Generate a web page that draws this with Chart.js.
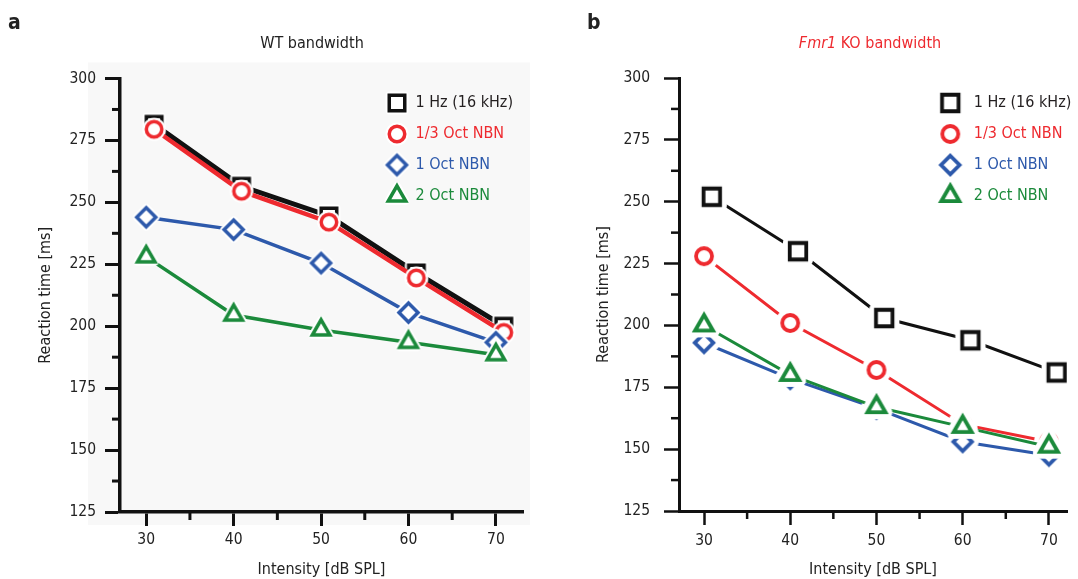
<!DOCTYPE html>
<html>
<head>
<meta charset="utf-8">
<script src="https://cdn.jsdelivr.net/npm/chart.js@4.4.1/dist/chart.umd.min.js"></script>
<style>
  body { margin: 0; background: #fff; }
  #wrap { position: relative; width: 1078px; height: 579px; overflow: hidden;
          font-family: "Liberation Sans Narrow", "DejaVu Sans Condensed", sans-serif; color: #222; }
  canvas { position: absolute; top: 0; }
  #wt { left: 0; }
  #ko { left: 540px; }
  .txt { position: absolute; white-space: nowrap; line-height: 20px; }
  .panel { font-weight: bold; font-size: 21px; }
  .title { font-size: 16px; transform: translateX(-50%); }
  .red { color: #ee2a2f; }
</style>
</head>
<body>
<div id="wrap">
  <canvas id="wt" width="540" height="579"></canvas>
  <canvas id="ko" width="538" height="579"></canvas>
  <div class="txt panel" style="left:8px; top:12px;">a</div>
  <div class="txt title" style="left:312px; top:33px;">WT bandwidth</div>
  <div class="txt panel" style="left:587px; top:12px;">b</div>
  <div class="txt title red" style="left:870px; top:33px;"><i>Fmr1</i> KO bandwidth</div>
</div>
<script>
// ---- data ----
const xTicks = [30, 40, 50, 60, 70];
const xMinor = [35, 45, 55, 65];
const yMinor = [137.5, 162.5, 187.5, 212.5, 237.5, 262.5, 287.5];
const intensity = [30, 40, 50, 60, 70];
const intensityShifted = [30.9, 40.9, 50.9, 60.9, 70.9]; // markers nudged right in the figure

const seriesNames = ['1 Hz (16 kHz)', '1/3 Oct NBN', '1 Oct NBN', '2 Oct NBN'];

const wtHz    = [281.5, 256.5, 244.5, 221.5, 200];
const wtThird = [279.5, 254.5, 242, 219.5, 197.5];
const wtOne   = [244, 239, 225.5, 205.5, 193.5];
const wtTwo   = [228, 204.5, 198.5, 193.5, 188.5];

const koHz    = [252, 230, 203, 194, 181];
const koThird = [228, 201, 182, 160, 153];
const koOne   = [193, 178.5, 166.5, 153, 147.5];
const koTwo   = [200, 180, 167, 159, 151];

const colors = ['#111111', '#ee2a2f', '#2d59ab', '#1b8a3b'];
const textColors = ['#231f20', '#ee2a2f', '#2d59ab', '#1b8a3b'];
const shapes = ['square', 'circle', 'diamond', 'triangle'];

const FONT = '"Liberation Sans Narrow", "DejaVu Sans Condensed", sans-serif';

// draws an open marker with a white halo so lines stop short of it
function marker(shape, color, size, lw, halo) {
  const dim = Math.ceil(size + 4 * (lw + halo) + 4);
  const c = document.createElement('canvas');
  c.width = c.height = dim;
  const g = c.getContext('2d');
  g.translate(dim / 2, dim / 2);
  const r = size / 2;
  const path = () => {
    g.beginPath();
    if (shape === 'square') g.rect(-r, -r, size, size);
    else if (shape === 'circle') g.arc(0, 0, r, 0, Math.PI * 2);
    else if (shape === 'diamond') { g.moveTo(0, -r); g.lineTo(r, 0); g.lineTo(0, r); g.lineTo(-r, 0); g.closePath(); }
    else {
      const h = size * 0.87;
      g.moveTo(0, -2 * h / 3); g.lineTo(r, h / 3); g.lineTo(-r, h / 3); g.closePath();
    }
  };
  path();
  g.fillStyle = '#fff';
  g.fill();
  if (halo > 0) {
    g.lineJoin = 'round';
    g.strokeStyle = '#fff';
    g.lineWidth = lw + 2 * halo;
    g.stroke();
  }
  g.lineJoin = 'miter';
  g.strokeStyle = color;
  g.lineWidth = lw;
  g.stroke();
  return c;
}

function pts(xs, ys) {
  return ys.map((v, i) => ({ x: xs[i], y: v }));
}

const minorTicks = {
  id: 'minorTicks',
  afterDraw(chart, args, opts) {
    const { ctx } = chart;
    const x = chart.scales.x, y = chart.scales.y;
    ctx.save();
    ctx.strokeStyle = '#111';
    ctx.lineWidth = opts.width;
    xMinor.forEach(v => {
      const px = x.getPixelForValue(v);
      ctx.beginPath(); ctx.moveTo(px, x.top); ctx.lineTo(px, x.top + opts.len); ctx.stroke();
    });
    yMinor.forEach(v => {
      const py = y.getPixelForValue(v);
      ctx.beginPath(); ctx.moveTo(y.right, py); ctx.lineTo(y.right - opts.len, py); ctx.stroke();
    });
    ctx.restore();
  }
};

// the legend sits inside the plot, top right
const legendSpot = {
  id: 'legendSpot',
  afterLayout(chart, args, opts) {
    const lg = chart.legend;
    if (!lg) return;
    const w = lg.width, h = lg.height;
    lg.left = opts.x; lg.right = opts.x + w;
    lg.top = opts.y; lg.bottom = opts.y + h + 60;
  }
};

const plotShade = {
  id: 'plotShade',
  beforeDraw(chart, args, opts) {
    if (!opts.color) return;
    const a = chart.chartArea;
    chart.ctx.save();
    chart.ctx.fillStyle = opts.color;
    chart.ctx.fillRect(a.left - 32, a.top - 16, a.right - a.left + 39, a.bottom - a.top + 29);
    chart.ctx.restore();
  }
};

function makeChart(id, cfg) {
  const sets = [cfg.hz, cfg.third, cfg.one, cfg.two].map((vals, i) => ({
    label: seriesNames[i],
    data: pts(cfg.xs[i], vals),
    borderColor: colors[i],
    backgroundColor: colors[i],
    borderWidth: cfg.lineW[i],
    pointStyle: marker(shapes[i], colors[i], cfg.mSize[i], cfg.mLw, cfg.halo),
    pointRadius: 8,
    tension: 0,
    fill: false,
    order: 4 - i
  }));

  return new Chart(document.getElementById(id), {
    type: 'line',
    data: { datasets: sets },
    options: {
      responsive: false,
      animation: false,
      events: [],
      layout: { padding: cfg.pad },
      plugins: {
        title: { display: false },
        tooltip: { enabled: false },
        legend: {
          position: 'chartArea',
          align: 'start',
          labels: {
            usePointStyle: true,
            pointStyleWidth: cfg.legBox,
            padding: 15,
            font: { family: FONT, size: 16 },
            sort: (a, b) => a.datasetIndex - b.datasetIndex,
            generateLabels(chart) {
              return Chart.defaults.plugins.legend.labels.generateLabels(chart)
                .map(it => Object.assign(it, { fontColor: textColors[it.datasetIndex] }));
            }
          }
        },
        legendSpot: cfg.legAt,
        minorTicks: { len: 8, width: cfg.tickW },
        plotShade: { color: cfg.shade }
      },
      scales: {
        x: {
          type: 'linear',
          min: cfg.xMin,
          max: cfg.xMax,
          afterBuildTicks: s => { s.ticks = xTicks.map(v => ({ value: v })); },
          afterFit: s => { s.height = cfg.xH; },
          grid: { drawOnChartArea: false, drawTicks: true, tickLength: 14, tickWidth: cfg.tickW, tickColor: '#111' },
          border: { color: '#111', width: cfg.axisW },
          ticks: { color: '#222', font: { family: FONT, size: 15.5 }, padding: cfg.xTickPad, maxRotation: 0 },
          title: { display: true, text: 'Intensity [dB SPL]', color: '#222',
                   font: { family: FONT, size: 16 }, padding: { top: 2, bottom: 0 } }
        },
        y: {
          min: 125,
          max: 300,
          ticks: { stepSize: 25, color: '#222', font: { family: FONT, size: 15.5 }, padding: cfg.yTickPad },
          afterFit: s => { s.width = cfg.yW; },
          grid: { drawOnChartArea: false, drawTicks: true, tickLength: 15, tickWidth: cfg.tickW, tickColor: '#111' },
          border: { color: '#111', width: cfg.axisW },
          title: { display: true, text: 'Reaction time [ms]', color: '#222',
                   font: { family: FONT, size: 16 }, padding: { top: cfg.yTitlePad, bottom: 0 } }
        }
      }
    },
    plugins: [minorTicks, legendSpot, plotShade]
  });
}

makeChart('wt', {
  hz: wtHz, third: wtThird, one: wtOne, two: wtTwo,
  xs: [intensityShifted, intensityShifted, intensity, intensity],
  lineW: [5, 4.5, 3.5, 3.5],
  mSize: [15.5, 15.5, 19, 17.5],
  mLw: 3.5, halo: 2,
  pad: { left: 0, top: 78.5, right: 17, bottom: 0 },
  xMin: 27, xMax: 73.1,
  xH: 67, yW: 120,
  xTickPad: 5, yTickPad: 9, yTitlePad: 36.4,
  tickW: 3, axisW: 3.5,
  legBox: 21,
  legAt: { x: 371.5, y: 80 },
  shade: '#f8f8f8'
});

makeChart('ko', {
  hz: koHz, third: koThird, one: koOne, two: koTwo,
  xs: [intensityShifted, intensity, intensity, intensity],
  lineW: [3, 3, 3, 3],
  mSize: [16.5, 16, 18.5, 18],
  mLw: 3.8, halo: 5,
  pad: { left: 0, top: 78, right: 5, bottom: 0 },
  xMin: 27.1, xMax: 72.1,
  xH: 68, yW: 139,
  xTickPad: 6.5, yTickPad: 14, yTitlePad: 54.4,
  tickW: 2.5, axisW: 3,
  legBox: 31,
  legAt: { x: 379.8, y: 80 },
  shade: null
});
</script>
</body>
</html>
